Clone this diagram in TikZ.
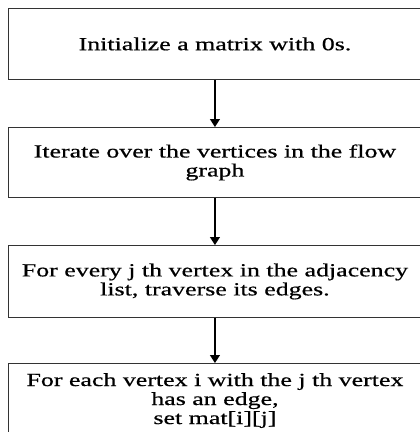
\documentclass[tikz,border=0pt]{standalone}
\usepackage{fontspec}
\setmainfont{Liberation Serif}[FakeStretch=1.4,FakeBold=0.6]
\usetikzlibrary{arrows.meta}
\begin{document}
\begin{tikzpicture}[x=1pt,y=1pt,
  stepbox/.style={draw=black!80, line width=0.9pt, minimum width=413pt,
    text width=398pt, align=flush center, inner xsep=0pt, inner ysep=0pt,
    font=\fontsize{18.5}{19}\selectfont},
  boxtext/.style={text width=398pt, align=flush center, inner sep=0pt,
    font=\fontsize{18.5}{19}\selectfont},
  flow/.style={draw=black, line width=1.1pt, -{Triangle[width=10pt,length=8pt]}}]
\useasboundingbox (0,0) rectangle (420,-432);
\clip (0,0) rectangle (420,-432);
% process steps, top to bottom
\node[stepbox, minimum height=71pt, anchor=north west] (b1) at (8,-8)
  {Initialize a matrix with 0s.};
\node[stepbox, minimum height=70pt, anchor=north west] (b2) at (8,-127)
  {Iterate over the vertices in the flow graph};
\node[stepbox, minimum height=72pt, anchor=north west] (b3) at (8,-245)
  {For every j th vertex in the adjacency list, traverse its edges.};
\node[stepbox, minimum height=90pt, anchor=north west] (b4) at (8,-363) {};
\node[boxtext, anchor=north] (t4) at ([yshift=-10pt]b4.north)
  {For each vertex i with the j th vertex\\ has an edge,\\ set mat[i][j]};
% connectors
\draw[flow] (b1.south) -- (b2.north);
\draw[flow] (b2.south) -- (b3.north);
\draw[flow] (b3.south) -- (b4.north);
\end{tikzpicture}
\end{document}
